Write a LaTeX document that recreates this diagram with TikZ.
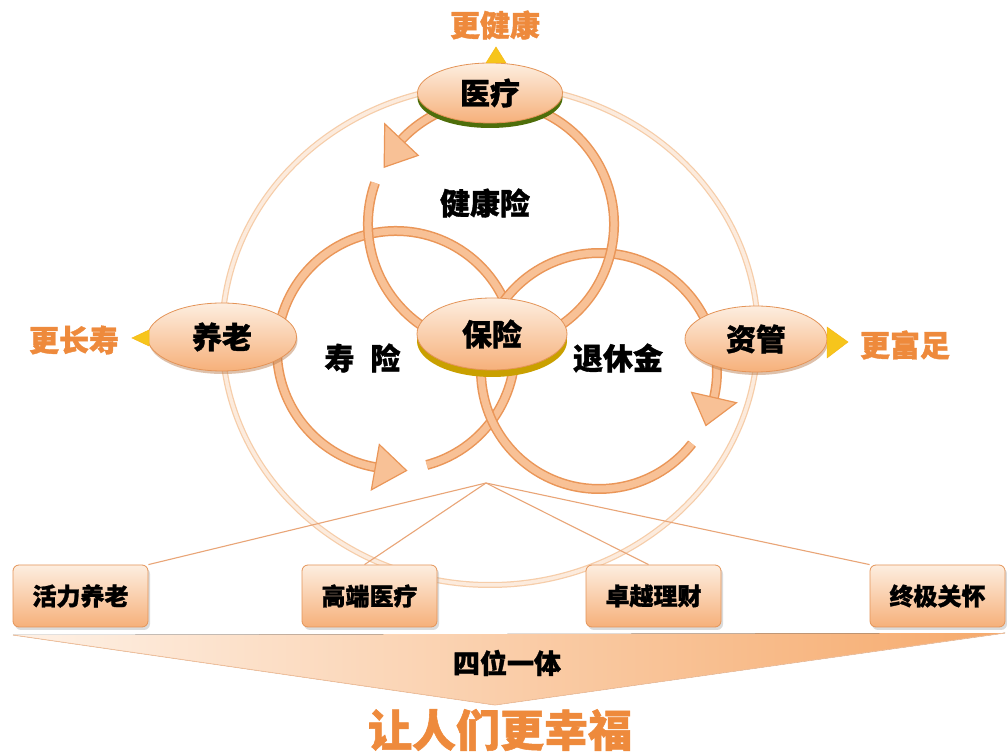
\documentclass[tikz,border=0pt]{standalone}
\usepackage{fontspec}
\newfontfamily\cjk{Noto Sans CJK SC}[BoldFeatures={FakeBold=1.2}]
\usetikzlibrary{shapes.geometric,shadows}
\definecolor{ringedge}{HTML}{EA9658}
\definecolor{ringfill}{HTML}{F8C196}
\definecolor{bigedge}{HTML}{F6CDA9}
\definecolor{bigfill}{HTML}{FCEBDD}
\definecolor{nodetop}{HTML}{FDEEE0}
\definecolor{nodebot}{HTML}{F6B07A}
\definecolor{nodeedge}{HTML}{E49458}
\definecolor{rimgreen}{HTML}{4E6E0A}
\definecolor{rimgold}{HTML}{C9A000}
\definecolor{labelorange}{HTML}{EE8A3C}
\definecolor{linecol}{HTML}{E9A577}
\definecolor{pointer}{HTML}{F6C51C}
\definecolor{wedgeL}{HTML}{FEF1E6}
\definecolor{wedgeR}{HTML}{F6AA6C}
\newcommand\ringarc[4]{%
  \draw[ringedge, line width=10] (#1) ++(#3:#2) arc[start angle=#3, end angle=#4, radius=#2];
  \draw[ringfill, line width=7] (#1) ++(#3:#2) arc[start angle=#3, end angle=#4, radius=#2];}
\newcommand\ringhead[6]{%
  \filldraw[fill=ringfill, draw=ringedge, line width=1.2, shift={(#1)}]
    (#5:#2) -- (#6:#4) -- (#5:#3) -- cycle;}
\begin{document}
\begin{tikzpicture}[x=1pt,y=1pt,
  bub/.style={ellipse, draw=nodeedge, line width=0.8, top color=nodetop, bottom color=nodebot,
    inner sep=0pt, font=\cjk\bfseries\fontsize{30}{30}\selectfont},
  box/.style={rectangle, rounded corners=6pt, draw=nodeedge, line width=0.8, top color=nodetop,
    bottom color=nodebot, minimum width=135pt, minimum height=62pt, inner sep=0pt,
    font=\cjk\bfseries\fontsize{24}{24}\selectfont,
    drop shadow={shadow xshift=2pt, shadow yshift=-3pt, fill=black!40, opacity=0.35}},
  txt/.style={inner sep=0pt, font=\cjk\bfseries\fontsize{30}{30}\selectfont},
  goal/.style={inner sep=0pt, text=labelorange, font=\cjk\bfseries\fontsize{30}{30}\selectfont},
  conn/.style={draw=linecol, line width=1.1},
  ptr/.style={fill=pointer, draw=pointer!80!orange, line width=0.5}
]
\useasboundingbox (0,0) rectangle (1007,752);
\fill[white] (0,0) rectangle (1007,752);

% big faint circle
\draw[line width=6, bigedge] (490,417) ellipse [x radius=268, y radius=250];
\draw[line width=3.5, bigfill] (490,417) ellipse [x radius=268, y radius=250];

% bottom wedge
\fill[left color=wedgeL, right color=wedgeR] (13,117) -- (1005,119) -- (495,47) -- cycle;
\draw[line width=0.8, draw=ringedge!60] (13,117) -- (495,47) -- (1005,119);
\node[inner sep=0pt, font=\cjk\bfseries\fontsize{27}{27}\selectfont] (siwei) at (507,89) {四位一体};
\node[goal, font=\cjk\bfseries\fontsize{44}{44}\selectfont] (happy) at (500,22) {让人们更幸福};

% bottom boxes
\coordinate (apex) at (486,269);
\node[box] (b1) at (80.5,156) {活力养老};
\node[box] (b2) at (369.5,156) {高端医疗};
\node[box] (b3) at (653.5,156) {卓越理财};
\node[box] (b4) at (937.5,156) {终极关怀};
\draw[conn] (apex) -- (b1.north east);
\draw[conn] (apex) -- ([xshift=-5pt]b2.north);
\draw[conn] (apex) -- ([xshift=-5pt]b3.north);
\draw[conn] (apex) -- (b4.north west);

% rings
\coordinate (tc) at (491,528);
\coordinate (lc) at (396,402);
\coordinate (rc) at (599,381);
\ringarc{lc}{119}{-75}{260}
\ringhead{lc}{142}{96}{121}{260}{275}
\ringarc{rc}{118}{-38}{-373}
\ringhead{rc}{141}{95}{120}{-13}{-27}
\ringarc{tc}{123}{160.5}{496.7}
\ringhead{tc}{146}{100}{121}{136.7}{152}

% inner labels
\node[txt] (jkx) at (485,549) {健康险};
\node[txt] (sx) at (362.5,394) {寿\hspace{16pt}险};
\node[txt] (txj) at (618,394) {退休金};

% main ellipses
\node[bub, minimum width=145pt, minimum height=60pt,
  drop shadow={shadow xshift=0pt, shadow yshift=-5pt, fill=rimgreen, opacity=1}] (yl) at (490,659) {医疗};
\node[bub, minimum width=150pt, minimum height=72pt,
  drop shadow={shadow xshift=0pt, shadow yshift=-7pt, fill=rimgold, opacity=1}] (bx) at (492,418) {保险};
\node[bub, minimum width=149pt, minimum height=68pt,
  drop shadow={shadow xshift=1pt, shadow yshift=-3pt, fill=nodeedge!80!black, opacity=0.45}] (yang) at (222,415) {养老};
\node[bub, minimum width=142pt, minimum height=66pt,
  drop shadow={shadow xshift=1pt, shadow yshift=-3pt, fill=nodeedge!80!black, opacity=0.45}] (zg) at (756,413) {资管};

% pointers
\fill[ptr] (486,689) -- (496,705) -- (506,689) -- cycle;
\fill[ptr] (149,422) -- (132,414) -- (149,406) -- cycle;
\fill[ptr] (827,425) -- (848,410) -- (827,394) -- cycle;

% goals
\node[goal] (g1) at (495,727) {更健康};
\node[goal] (g2) at (74,412) {更长寿};
\node[goal] (g3) at (905,407) {更富足};
\end{tikzpicture}
\end{document}
